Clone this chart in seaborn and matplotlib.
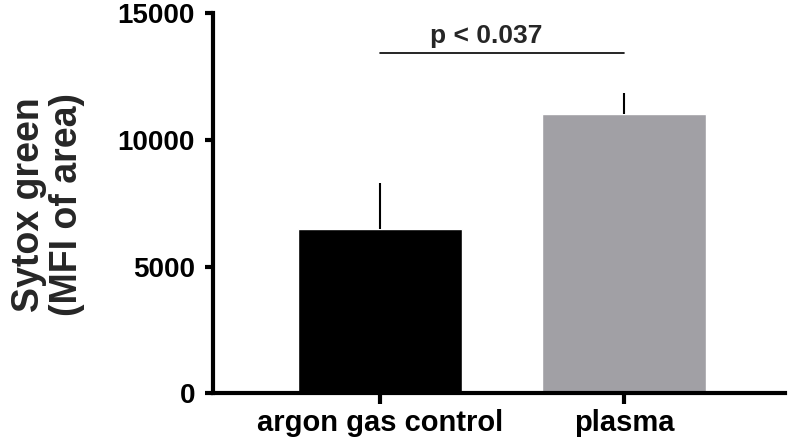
import matplotlib
matplotlib.use("Agg")
import matplotlib.pyplot as plt
import seaborn as sns
import pandas as pd

categories = ["argon gas control", "plasma"]
means = [6470, 11020]
sems = [1820, 820]
bar_colors = ["#000000", "#A1A0A5"]
y_ticks = [0, 5000, 10000, 15000]
p_text = "p < 0.037"
sig_y = 13445
y_label = "Sytox green\n(MFI of area)"

sns.set_style("ticks")
plt.rcParams['font.family'] = ['Liberation Sans', 'DejaVu Sans']
plt.rcParams['font.weight'] = 'bold'

df = pd.DataFrame({"group": categories, "value": means})

fig = plt.figure(figsize=(7.88, 4.42), dpi=100)
ax = fig.add_axes([213/788, 1-393.3/442, (785-213)/788, (393.3-13.3)/442])

sns.barplot(data=df, x="group", y="value", hue="group", palette=bar_colors,
            width=0.67, legend=False, ax=ax, saturation=1, errorbar=None)

for i, (m, s) in enumerate(zip(means, sems)):
    ax.plot([i, i], [m, m + s], color="black", lw=1.5, solid_capstyle="butt", zorder=3)

ax.set_xlim(-0.685, 1.66)
ax.set_ylim(0, 15000)
ax.set_yticks(y_ticks)
ax.set_yticklabels([str(t) for t in y_ticks], fontsize=20, fontweight='bold')
ax.set_xticks([0, 1])
ax.set_xticklabels(categories, fontsize=21, fontweight='bold')
ax.set_xlabel("")
ax.set_ylabel("")
fig.text(48/788, 1-205/442, y_label, rotation=90, ha="center", va="center",
         fontsize=27, fontweight='bold', linespacing=1.05)

for side in ["top", "right"]:
    ax.spines[side].set_visible(False)
for side in ["left", "bottom"]:
    ax.spines[side].set_linewidth(3)
    ax.spines[side].set_color("black")
ax.tick_params(axis='y', width=3, length=6, color="black", labelcolor="black", pad=7)
ax.tick_params(axis='x', width=3, length=8, color="black", labelcolor="black", pad=3)

# significance bar
ax.plot([0, 1], [sig_y, sig_y], color="black", lw=1.2, clip_on=False)
ax.text(0.437, 13815, p_text, ha="center", va="baseline", fontsize=19, fontweight='bold')

fig.savefig("out.png", dpi=100)
